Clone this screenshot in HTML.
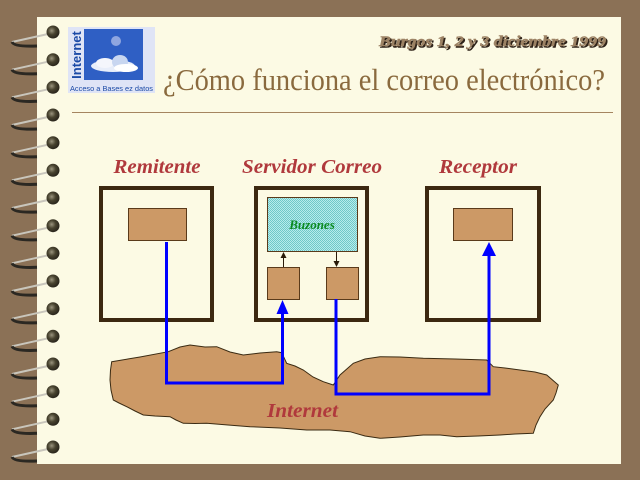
<!DOCTYPE html>
<html><head><meta charset="utf-8"><style>
html,body{margin:0;padding:0;background:#8b7156;}
svg{display:block;}
</style></head><body>
<svg width="640" height="480" viewBox="0 0 640 480" xmlns="http://www.w3.org/2000/svg">
<defs>
<pattern id="hatch" width="2" height="2" patternUnits="userSpaceOnUse">
<rect width="2" height="2" fill="#b8ecec"/>
<rect width="1" height="1" fill="#70c8c8"/>
<rect x="1" y="1" width="1" height="1" fill="#70c8c8"/>
</pattern>
<radialGradient id="dot" cx="0.4" cy="0.4" r="0.6">
<stop offset="0" stop-color="#9a947e"/>
<stop offset="0.5" stop-color="#48432f"/>
<stop offset="1" stop-color="#2a261c"/>
</radialGradient>
</defs>
<rect width="640" height="480" fill="#8b7156"/>
<!-- paper -->
<rect x="37" y="17" width="584" height="447" fill="#fcfae4"/>
<!-- rings -->
<g id="rings">
<g transform="translate(0,32)"><path d="M48 2 L12 10" stroke="#c9c6bc" stroke-width="2" fill="none"/><path d="M12 10 Q14 15 37 14" stroke="#2b2822" stroke-width="3" fill="none"/><circle cx="53" cy="0" r="6.5" fill="url(#dot)"/></g>
<g transform="translate(0,59.7)"><path d="M48 2 L12 10" stroke="#c9c6bc" stroke-width="2" fill="none"/><path d="M12 10 Q14 15 37 14" stroke="#2b2822" stroke-width="3" fill="none"/><circle cx="53" cy="0" r="6.5" fill="url(#dot)"/></g>
<g transform="translate(0,87.3)"><path d="M48 2 L12 10" stroke="#c9c6bc" stroke-width="2" fill="none"/><path d="M12 10 Q14 15 37 14" stroke="#2b2822" stroke-width="3" fill="none"/><circle cx="53" cy="0" r="6.5" fill="url(#dot)"/></g>
<g transform="translate(0,115)"><path d="M48 2 L12 10" stroke="#c9c6bc" stroke-width="2" fill="none"/><path d="M12 10 Q14 15 37 14" stroke="#2b2822" stroke-width="3" fill="none"/><circle cx="53" cy="0" r="6.5" fill="url(#dot)"/></g>
<g transform="translate(0,142.7)"><path d="M48 2 L12 10" stroke="#c9c6bc" stroke-width="2" fill="none"/><path d="M12 10 Q14 15 37 14" stroke="#2b2822" stroke-width="3" fill="none"/><circle cx="53" cy="0" r="6.5" fill="url(#dot)"/></g>
<g transform="translate(0,170.3)"><path d="M48 2 L12 10" stroke="#c9c6bc" stroke-width="2" fill="none"/><path d="M12 10 Q14 15 37 14" stroke="#2b2822" stroke-width="3" fill="none"/><circle cx="53" cy="0" r="6.5" fill="url(#dot)"/></g>
<g transform="translate(0,198)"><path d="M48 2 L12 10" stroke="#c9c6bc" stroke-width="2" fill="none"/><path d="M12 10 Q14 15 37 14" stroke="#2b2822" stroke-width="3" fill="none"/><circle cx="53" cy="0" r="6.5" fill="url(#dot)"/></g>
<g transform="translate(0,225.7)"><path d="M48 2 L12 10" stroke="#c9c6bc" stroke-width="2" fill="none"/><path d="M12 10 Q14 15 37 14" stroke="#2b2822" stroke-width="3" fill="none"/><circle cx="53" cy="0" r="6.5" fill="url(#dot)"/></g>
<g transform="translate(0,253.3)"><path d="M48 2 L12 10" stroke="#c9c6bc" stroke-width="2" fill="none"/><path d="M12 10 Q14 15 37 14" stroke="#2b2822" stroke-width="3" fill="none"/><circle cx="53" cy="0" r="6.5" fill="url(#dot)"/></g>
<g transform="translate(0,281)"><path d="M48 2 L12 10" stroke="#c9c6bc" stroke-width="2" fill="none"/><path d="M12 10 Q14 15 37 14" stroke="#2b2822" stroke-width="3" fill="none"/><circle cx="53" cy="0" r="6.5" fill="url(#dot)"/></g>
<g transform="translate(0,308.7)"><path d="M48 2 L12 10" stroke="#c9c6bc" stroke-width="2" fill="none"/><path d="M12 10 Q14 15 37 14" stroke="#2b2822" stroke-width="3" fill="none"/><circle cx="53" cy="0" r="6.5" fill="url(#dot)"/></g>
<g transform="translate(0,336.3)"><path d="M48 2 L12 10" stroke="#c9c6bc" stroke-width="2" fill="none"/><path d="M12 10 Q14 15 37 14" stroke="#2b2822" stroke-width="3" fill="none"/><circle cx="53" cy="0" r="6.5" fill="url(#dot)"/></g>
<g transform="translate(0,364)"><path d="M48 2 L12 10" stroke="#c9c6bc" stroke-width="2" fill="none"/><path d="M12 10 Q14 15 37 14" stroke="#2b2822" stroke-width="3" fill="none"/><circle cx="53" cy="0" r="6.5" fill="url(#dot)"/></g>
<g transform="translate(0,391.7)"><path d="M48 2 L12 10" stroke="#c9c6bc" stroke-width="2" fill="none"/><path d="M12 10 Q14 15 37 14" stroke="#2b2822" stroke-width="3" fill="none"/><circle cx="53" cy="0" r="6.5" fill="url(#dot)"/></g>
<g transform="translate(0,419.3)"><path d="M48 2 L12 10" stroke="#c9c6bc" stroke-width="2" fill="none"/><path d="M12 10 Q14 15 37 14" stroke="#2b2822" stroke-width="3" fill="none"/><circle cx="53" cy="0" r="6.5" fill="url(#dot)"/></g>
<g transform="translate(0,447)"><path d="M48 2 L12 10" stroke="#c9c6bc" stroke-width="2" fill="none"/><path d="M12 10 Q14 15 37 14" stroke="#2b2822" stroke-width="3" fill="none"/><circle cx="53" cy="0" r="6.5" fill="url(#dot)"/></g>
</g>
<!-- logo -->
<rect x="68" y="27" width="87" height="66" fill="#dfe4f6"/>
<rect x="84" y="29" width="59" height="51" fill="#2f5fc4"/>
<circle cx="116" cy="41" r="5" fill="#8fa6e0"/>
<ellipse cx="113" cy="66" rx="22" ry="6" fill="#e8eefa"/>
<ellipse cx="105" cy="63" rx="9" ry="5" fill="#f4f6fc"/>
<ellipse cx="120" cy="62" rx="8" ry="7" fill="#c8d6f0"/>
<ellipse cx="126" cy="68" rx="12" ry="4" fill="#ffffff"/>
<text x="0" y="0" transform="translate(81,55) rotate(-90)" text-anchor="middle" font-family="Liberation Sans, sans-serif" font-weight="bold" font-size="13" fill="#1b4aa6">Internet</text>
<text x="70" y="91" font-family="Liberation Sans, sans-serif" font-size="7.5" fill="#1b4aa6" textLength="83" lengthAdjust="spacingAndGlyphs">Acceso a Bases ez datos</text>
<!-- header -->
<text x="607.5" y="47.5" text-anchor="end" font-family="Liberation Serif, serif" font-weight="bold" font-style="italic" font-size="15" fill="#2e2218" stroke="#2e2218" stroke-width="0.6" textLength="227" lengthAdjust="spacingAndGlyphs">Burgos 1, 2 y 3 diciembre 1999</text>
<text x="606" y="46" text-anchor="end" font-family="Liberation Serif, serif" font-weight="bold" font-style="italic" font-size="15" fill="#9c8264" stroke="#9c8264" stroke-width="0.5" textLength="227" lengthAdjust="spacingAndGlyphs">Burgos 1, 2 y 3 diciembre 1999</text>
<text x="163" y="90" font-family="Liberation Serif, serif" font-size="31" fill="#8a6a3e" textLength="442" lengthAdjust="spacingAndGlyphs">¿Cómo funciona el correo electrónico?</text>
<line x1="72" y1="112.5" x2="613" y2="112.5" stroke="#a58560" stroke-width="1"/>
<!-- labels -->
<g font-family="Liberation Serif, serif" font-weight="bold" font-style="italic" font-size="20" fill="#b0393c" text-anchor="middle">
<text x="157" y="173" textLength="87" lengthAdjust="spacingAndGlyphs">Remitente</text>
<text x="312" y="173" textLength="140" lengthAdjust="spacingAndGlyphs">Servidor Correo</text>
<text x="478" y="173" textLength="78" lengthAdjust="spacingAndGlyphs">Receptor</text>
</g>
<!-- internet blob -->
<path d="M111.7 361.7 L140 357 L168.3 351.7 L180 347 L190 345 L205 347 L216.7 346.7 L230 352 L243.3 355 L260 353 L276.7 351.7 L281.7 352.7 L286.7 363.3 L295 366 L303.3 370 L313 377 L323.3 381.7 L333.3 385 L340 375 L353.3 363.3 L365 359 L380 356.7 L400 357 L423.3 358.3 L455 359 L486.7 360 L493.3 366.7 L505 368 L520 370 L535 372 L546.7 375 L558.3 385 L556 393 L553.3 400 L545 409 L540 416.7 L536 425 L533.3 433.3 L515 434 L500 435 L478 436 L456.7 436.7 L440 435 L423.3 435 L400 437 L380 438.3 L365 436 L350 431.7 L330 430 L306.7 430 L280 428 L250 426.7 L228 425 L206.7 423.3 L195 423.5 L183.3 423.3 L176 420 L170 416.7 L155 416 L143.3 415 L135 411 L126.7 406.7 L119 403 L113.3 400 L111 390 L110 380 L110.5 370 Z" fill="#cc9966" stroke="#3a2a12" stroke-width="1"/>
<text x="302.5" y="417" text-anchor="middle" font-family="Liberation Serif, serif" font-weight="bold" font-style="italic" font-size="20" fill="#b0393c" textLength="71" lengthAdjust="spacingAndGlyphs">Internet</text>
<!-- boxes -->
<g fill="none" stroke="#3c2810" stroke-width="4">
<rect x="101" y="188" width="111" height="132"/>
<rect x="256" y="188" width="111" height="132"/>
<rect x="427" y="188" width="112" height="132"/>
</g>
<g fill="#cc9966" stroke="#5a3a1a" stroke-width="1">
<rect x="128.5" y="208.5" width="58" height="32"/>
<rect x="453.5" y="208.5" width="59" height="32"/>
<rect x="267.5" y="267.5" width="32" height="32"/>
<rect x="326.5" y="267.5" width="32" height="32"/>
</g>
<rect x="267.5" y="197.5" width="90" height="54" fill="url(#hatch)" stroke="#5a3a1a" stroke-width="1"/>
<text x="312" y="229" text-anchor="middle" font-family="Liberation Serif, serif" font-weight="bold" font-style="italic" font-size="13" fill="#0a8a20">Buzones</text>
<!-- small arrows -->
<line x1="283.5" y1="267" x2="283.5" y2="256" stroke="#2a1a08" stroke-width="1"/>
<polygon points="283.5,252 280.5,258 286.5,258" fill="#2a1a08"/>
<line x1="336.5" y1="252" x2="336.5" y2="263" stroke="#2a1a08" stroke-width="1"/>
<polygon points="336.5,267 333.5,261 339.5,261" fill="#2a1a08"/>
<!-- blue connectors -->
<g stroke="#0000ff" stroke-width="3" fill="none">
<polyline points="166.5,242 166.5,383 282.5,383 282.5,312"/>
<polyline points="336,299 336,394 489,394 489,254"/>
</g>
<polygon points="282.5,300 276.5,314 288.5,314" fill="#0000ff"/>
<polygon points="489,242 482,256 496,256" fill="#0000ff"/>
</svg>
</body></html>
